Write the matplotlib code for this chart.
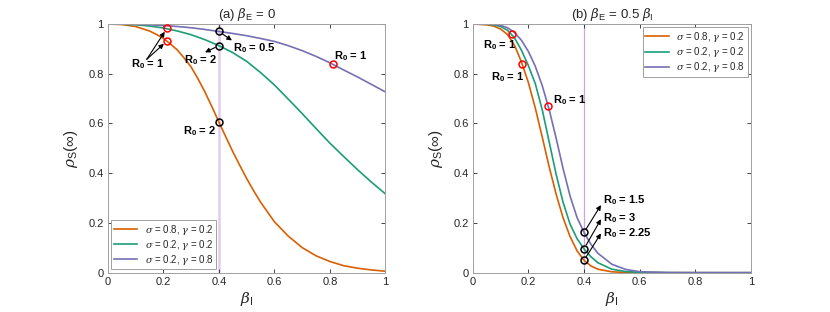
import numpy as np
import matplotlib.pyplot as plt

plt.rcParams['font.family'] = ['Liberation Sans', 'DejaVu Sans']
plt.rcParams['mathtext.fontset'] = 'custom'
plt.rcParams['mathtext.rm'] = 'Liberation Sans'
plt.rcParams['mathtext.it'] = 'DejaVu Serif:italic'
plt.rcParams['mathtext.bf'] = 'Liberation Sans:bold'

#%% datos
# (a) beta_E = 0
beta_a = [0, 0.05, 0.1, 0.15, 0.2, 0.25, 0.3, 0.35, 0.4, 0.45, 0.5,
          0.55, 0.6, 0.65, 0.7, 0.75, 0.8, 0.85, 0.9, 0.95, 1.0]
beta_a_fino = [0, 0.05, 0.1, 0.15, 0.175, 0.2, 0.225, 0.25, 0.275, 0.3, 0.325, 0.35, 0.375, 0.4,
               0.425, 0.45, 0.475, 0.5, 0.525, 0.55, 0.6, 0.65, 0.7, 0.75, 0.8, 0.85, 0.9, 0.95, 1.0]
rho_a_naranja = [1.0, 0.998, 0.990, 0.972, 0.958, 0.942, 0.920, 0.896, 0.863, 0.827, 0.779, 0.726, 0.667, 0.606,
                 0.546, 0.487, 0.432, 0.379, 0.330, 0.284, 0.205, 0.147, 0.101, 0.068, 0.045, 0.028, 0.018, 0.011, 0.006]
rho_a_verde = [1.0, 0.999, 0.997, 0.992, 0.984, 0.972, 0.957, 0.937, 0.913, 0.885, 0.850,
               0.805, 0.755, 0.698, 0.640, 0.580, 0.521, 0.467, 0.414, 0.364, 0.317]
rho_a_azul = [1.0, 1.0, 0.999, 0.997, 0.994, 0.990, 0.985, 0.978, 0.970, 0.962, 0.953,
              0.942, 0.930, 0.913, 0.893, 0.870, 0.844, 0.815, 0.787, 0.757, 0.727]

# (b) beta_E = 0.5 beta_I
beta_b = [0, 0.05, 0.075, 0.1, 0.125, 0.15, 0.175, 0.2, 0.225, 0.25, 0.275, 0.3, 0.325,
          0.35, 0.375, 0.4, 0.425, 0.45, 0.5, 0.55, 0.6, 0.7, 0.8, 0.9, 1.0]
rho_b_naranja = [1.0, 0.997, 0.992, 0.980, 0.958, 0.915, 0.848, 0.765, 0.662, 0.545, 0.425, 0.315, 0.220,
                 0.145, 0.088, 0.050, 0.027, 0.014, 0.0035, 0.001, 0.0003, 0.0001, 0, 0, 0]
rho_b_verde = [1.0, 0.999, 0.997, 0.990, 0.975, 0.945, 0.895, 0.833, 0.760, 0.655, 0.525, 0.395, 0.282,
               0.195, 0.137, 0.096, 0.064, 0.040, 0.014, 0.0045, 0.0013, 0.0002, 0, 0, 0]
rho_b_azul = [1.0, 1.0, 0.999, 0.995, 0.985, 0.966, 0.935, 0.890, 0.830, 0.752, 0.655, 0.540, 0.418,
              0.308, 0.222, 0.162, 0.114, 0.078, 0.034, 0.013, 0.004, 0.0005, 0.0001, 0, 0]

etiquetas = [r'$\sigma$ = 0.8, $\gamma$ = 0.2', r'$\sigma$ = 0.2, $\gamma$ = 0.2', r'$\sigma$ = 0.2, $\gamma$ = 0.8']
colores = ['#D95F02', '#1B9E77', '#7570B3']

# puntos R0 = 1 (rojos) y en beta_I = 0.4 (negros)
r1_a_x = [0.213, 0.213, 0.812]
r1_a_y = [0.932, 0.983, 0.838]
b04_a_y = [0.606, 0.913, 0.970]
r1_b_x = [0.178, 0.143, 0.271]
r1_b_y = [0.838, 0.958, 0.670]
b04_b_y = [0.050, 0.096, 0.162]

#%%
fig = plt.figure(figsize=(8.3, 3.12), dpi=100)
ax1 = fig.add_axes([0.130, 0.126, 0.3343, 0.797])
ax2 = fig.add_axes([0.5695, 0.126, 0.3353, 0.797])

gris = '#262626'
for ax in (ax1, ax2):
    ax.set_xlim(0, 1)
    ax.set_ylim(0, 1)
    ax.set_xticks([0, 0.2, 0.4, 0.6, 0.8, 1])
    ax.set_xticklabels(['0', '0.2', '0.4', '0.6', '0.8', '1'])
    ax.set_yticks([0, 0.2, 0.4, 0.6, 0.8, 1])
    ax.set_yticklabels(['0', '0.2', '0.4', '0.6', '0.8', '1'])
    ax.tick_params(direction='in', length=3, width=0.6, colors=gris, labelsize=8,
                   top=True, right=True, pad=3)
    for s in ax.spines.values():
        s.set_color('#A0A0A0')
        s.set_linewidth(0.7)
    ax.set_xlabel(r'$\beta_\mathrm{I}$', fontsize=11, color=gris, labelpad=2)
    ax.set_ylabel(r'$\rho_\mathrm{S}(\infty)$', fontsize=11, color=gris, labelpad=6)

ax1.axvline(0.4, color='#E2CCEE', lw=1.8, zorder=1)
ax2.axvline(0.4, color='#CDA6DD', lw=0.9, zorder=1)

ax1.plot(beta_a_fino, rho_a_naranja, color=colores[0], lw=1.2, label=etiquetas[0], zorder=2)
ax1.plot(beta_a, rho_a_verde, color=colores[1], lw=1.2, label=etiquetas[1], zorder=2)
ax1.plot(beta_a, rho_a_azul, color=colores[2], lw=1.2, label=etiquetas[2], zorder=2)
for rho, c, lab in zip([rho_b_naranja, rho_b_verde, rho_b_azul], colores, etiquetas):
    ax2.plot(beta_b, rho, color=c, lw=1.2, label=lab, zorder=2)

mk = dict(marker='o', ms=5, mfc='none', mew=1.1, ls='none', zorder=4)
ax1.plot(r1_a_x, r1_a_y, mec='#FF0000', **mk)
ax1.plot([0.4] * 3, b04_a_y, mec='k', **mk)
ax2.plot(r1_b_x, r1_b_y, mec='#FF0000', **mk)
ax2.plot([0.4] * 3, b04_b_y, mec='k', **mk)

ax1.set_title(r'(a) $\beta_\mathrm{E}$ = 0', fontsize=9.5, color=gris, pad=4)
ax2.set_title(r'(b) $\beta_\mathrm{E}$ = 0.5 $\beta_\mathrm{I}$', fontsize=9.5, color=gris, pad=4)

#%% anotaciones
fl = dict(arrowstyle='-|>', color='k', lw=0.8, mutation_scale=7, shrinkA=0, shrinkB=3)
txt = dict(fontsize=8, fontweight='bold', va='center')
R = r'R$_\mathbf{0}$'

ax1.text(0.083, 0.84, R + ' = 1', ha='left', **txt)
ax1.annotate('', xy=(r1_a_x[0], r1_a_y[0]), xytext=(0.14, 0.858), arrowprops=fl)
ax1.annotate('', xy=(r1_a_x[1], r1_a_y[1]), xytext=(0.14, 0.858), arrowprops=fl)
ax1.text(0.45, 0.905, R + ' = 0.5', ha='left', **txt)
ax1.annotate('', xy=(0.447, 0.934), xytext=(0.4, b04_a_y[2]), arrowprops=dict(fl, shrinkA=3, shrinkB=0))
ax1.text(0.395, 0.856, R + ' = 2', ha='right', **txt)
ax1.annotate('', xy=(0.35, 0.886), xytext=(0.4, b04_a_y[1]), arrowprops=dict(fl, shrinkA=3, shrinkB=0))
ax1.text(0.392, 0.57, R + ' = 2', ha='right', **txt)
ax1.text(0.816, 0.872, R + ' = 1', ha='left', **txt)

ax2.text(0.036, 0.916, R + ' = 1', ha='left', **txt)
ax2.text(0.066, 0.787, R + ' = 1', ha='left', **txt)
ax2.text(0.29, 0.693, R + ' = 1', ha='left', **txt)
for y0, ytxt, ycab, lab in zip(b04_b_y[::-1], [0.293, 0.22, 0.16], [0.272, 0.215, 0.158], ['1.5', '3', '2.25']):
    ax2.text(0.468, ytxt, R + ' = ' + lab, ha='left', **txt)
    ax2.annotate('', xy=(0.461, ycab), xytext=(0.4, y0), arrowprops=dict(fl, shrinkA=3, shrinkB=0))

leg_kw = dict(fontsize=7, fancybox=False, edgecolor='#A0A0A0', framealpha=1,
              handlelength=2.4, borderpad=0.25, labelspacing=0.12, handletextpad=0.8, borderaxespad=0.35)
l1 = ax1.legend(loc='lower left', **leg_kw)
l2 = ax2.legend(loc='upper right', **leg_kw)
for l in (l1, l2):
    l.get_frame().set_linewidth(0.7)
    for t in l.get_texts():
        t.set_color(gris)

fig.savefig('out.png', dpi=100)
